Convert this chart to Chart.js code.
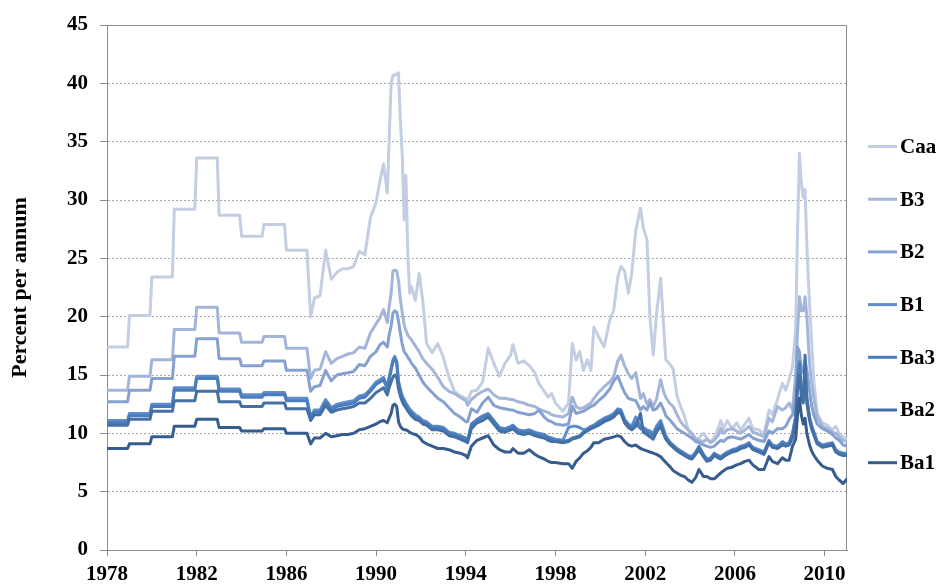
<!DOCTYPE html>
<html lang="en">
<head>
  <meta charset="UTF-8">
  <title>Bond yields by rating</title>
  <script src="https://cdn.jsdelivr.net/npm/chart.js"></script>
  <style>
    body { margin: 0; background: #ffffff; }
    #wrap { width: 940px; height: 586px; }
  </style>
</head>
<body>
  <div id="wrap"><canvas id="yieldChart" width="940" height="586"></canvas></div>

  <script>
    // Series names (legend order, top to bottom)
    var seriesNames = ['Caa', 'B3', 'B2', 'B1', 'Ba3', 'Ba2', 'Ba1'];
    var seriesColors = ['#C3CEE3', '#A3B6D9', '#86A1CF', '#5F8DCB', '#4A7DBE', '#4470A6', '#365D8E'];

    // Annual values 1978-1986 (flat within each year)
    var annualYears = [1978, 1979, 1980, 1981, 1982, 1983, 1984, 1985, 1986];
    var caaAnnual = [17.4, 20.1, 23.4, 29.2, 33.6, 28.7, 26.9, 27.9, 25.7];
    var b3Annual  = [13.7, 14.9, 16.3, 18.9, 20.8, 18.6, 17.8, 18.3, 17.3];
    var b2Annual  = [12.7, 13.7, 14.7, 16.6, 18.1, 16.4, 15.8, 16.2, 15.4];
    var b1Annual  = [11.1, 11.7, 12.5, 13.9, 14.9, 13.8, 13.3, 13.5, 13.0];
    var ba3Annual = [10.9, 11.5, 12.3, 13.7, 14.7, 13.6, 13.1, 13.3, 12.8];
    var ba2Annual = [10.7, 11.2, 11.9, 12.8, 13.6, 12.7, 12.3, 12.6, 12.1];
    var ba1Annual = [8.7, 9.1, 9.7, 10.6, 11.2, 10.5, 10.2, 10.4, 10.0];

    // Dates from 1987 on (decimal years)
    var recentDates = [
      1987.08, 1987.25, 1987.5, 1987.75, 1988.0, 1988.25, 1988.5, 1988.75, 1989.0, 1989.25,
      1989.5, 1989.75, 1990.0, 1990.17, 1990.33, 1990.5, 1990.58, 1990.67, 1990.75, 1990.83,
      1990.92, 1991.0, 1991.08, 1991.17, 1991.25, 1991.33, 1991.42, 1991.5, 1991.58, 1991.75,
      1991.92, 1992.08, 1992.25, 1992.5, 1992.75, 1993.0, 1993.25, 1993.5, 1993.75, 1994.0,
      1994.08, 1994.25, 1994.5, 1994.75, 1995.0, 1995.25, 1995.5, 1995.75, 1996.0, 1996.1,
      1996.33, 1996.58, 1996.83, 1997.08, 1997.25, 1997.5, 1997.67, 1997.83, 1998.0, 1998.33,
      1998.58, 1998.75, 1998.92, 1999.08, 1999.25, 1999.42, 1999.58, 1999.71, 1999.92, 2000.17,
      2000.42, 2000.6, 2000.78, 2000.92, 2001.08, 2001.25, 2001.4, 2001.58, 2001.79, 2001.92,
      2002.08, 2002.21, 2002.36, 2002.5, 2002.69, 2002.83, 2002.92, 2003.08, 2003.25, 2003.42,
      2003.58, 2003.75, 2003.92, 2004.08, 2004.25, 2004.4, 2004.6, 2004.75, 2004.92, 2005.08,
      2005.25, 2005.37, 2005.5, 2005.66, 2005.88, 2006.08, 2006.26, 2006.45, 2006.63, 2006.8,
      2007.07, 2007.3, 2007.52, 2007.67, 2007.9, 2008.12, 2008.27, 2008.42, 2008.57, 2008.71,
      2008.79, 2008.88, 2008.96, 2009.05, 2009.13, 2009.21, 2009.33, 2009.42, 2009.53, 2009.67,
      2009.9, 2010.12, 2010.35, 2010.5, 2010.65, 2010.83, 2011.0
    ];

    var caaRecent = [
      20.0, 21.6, 21.8, 25.7, 23.2, 23.8, 24.1, 24.1, 24.3, 25.6,
      25.3, 28.5, 29.8, 31.6, 33.1, 30.6, 35.0, 40.0, 40.7, 40.7,
      40.8, 40.9, 37.0, 33.7, 28.3, 32.1, 25.0, 22.0, 22.6, 21.4,
      23.7, 21.4, 17.7, 16.9, 17.7, 16.5, 14.8, 13.6, 13.2, 13.0,
      12.8, 13.6, 13.7, 14.4, 17.3, 16.0, 14.9, 16.0, 16.7, 17.6,
      16.0, 16.2, 15.8, 15.2, 14.3, 13.6, 13.1, 13.4, 12.6, 11.9,
      12.6, 17.7, 16.3, 17.0, 15.4, 16.3, 15.4, 19.1, 18.3, 17.4,
      19.7, 20.6, 23.4, 24.3, 23.9, 22.0, 23.7, 27.4, 29.3, 27.6,
      26.6, 20.0, 16.7, 20.1, 23.3, 19.0, 16.3, 16.0, 15.5, 13.2,
      12.3, 11.5, 10.3, 10.0, 9.5, 9.6, 10.0, 9.6, 9.2, 9.7,
      10.4, 11.1, 10.4, 11.1, 10.4, 10.9, 10.3, 10.8, 11.3, 10.4,
      10.3, 9.9, 12.0, 11.6, 12.9, 14.3, 13.7, 14.6, 15.7, 18.9,
      27.0, 34.0, 31.5, 30.2, 30.9, 26.0, 21.0, 18.0, 14.3, 11.7,
      10.9, 10.7, 10.3, 10.6, 10.0, 9.7, 9.5
    ];
    var b3Recent = [
      14.7, 15.4, 15.5, 17.0, 16.0, 16.4, 16.6, 16.8, 16.9, 17.4,
      17.3, 18.6, 19.4, 19.9, 20.6, 19.5, 20.8, 22.0, 23.9, 24.0,
      23.9, 23.1, 21.5, 20.3, 19.3, 18.8, 18.4, 18.2, 18.0, 17.5,
      17.0, 16.4, 16.0, 15.5, 14.8, 14.0, 13.6, 13.4, 13.1, 12.8,
      12.4, 12.9, 13.3, 13.6, 13.8, 13.3, 13.0, 13.0, 12.9, 12.9,
      12.7, 12.6, 12.4, 12.3, 12.1, 11.9, 11.8, 11.6, 11.5, 11.4,
      11.7, 13.1, 12.3, 12.1, 12.2, 12.4, 12.6, 13.0, 13.5, 14.0,
      14.4, 14.9, 16.2, 16.7, 15.8, 15.1, 14.7, 15.2, 13.0, 13.4,
      12.5, 12.9, 12.3, 12.9, 14.6, 13.5, 13.1, 12.6, 12.3, 11.6,
      11.0, 10.6, 10.3, 10.0, 9.5, 9.4, 9.3, 9.5, 9.2, 9.4,
      9.8, 10.4, 10.0, 10.3, 10.4, 10.2, 10.0, 10.3, 10.6, 10.1,
      9.9, 9.7, 11.3, 11.0, 12.3, 12.0, 12.2, 12.6, 12.0, 15.0,
      18.5, 21.7, 20.5, 20.5, 21.7, 20.0, 16.0, 14.3, 12.9, 11.4,
      10.6, 10.4, 10.1, 10.0, 9.7, 9.4, 9.3
    ];
    var b2Recent = [
      13.6, 14.0, 14.1, 15.4, 14.5, 15.0, 15.1, 15.2, 15.3, 15.9,
      15.8, 16.6, 17.0, 17.6, 17.8, 17.4, 18.4, 19.2, 20.3, 20.5,
      20.4, 19.6, 18.6, 17.6, 17.0, 16.8, 16.5, 16.3, 16.0, 15.6,
      15.0, 14.4, 14.0, 13.5, 13.0, 12.7, 12.2, 11.7, 11.4, 11.0,
      11.0, 12.1, 11.8, 12.6, 13.1, 12.4, 12.2, 12.1, 12.0, 12.0,
      11.8, 11.7, 11.6, 11.7, 12.0, 11.4, 11.1, 11.0, 10.8, 10.7,
      10.8, 12.3, 11.7, 11.8, 11.9, 12.1, 12.3, 12.4, 12.8, 13.2,
      13.8, 14.5, 14.9, 14.2, 13.5, 13.0, 12.9, 12.8, 12.0, 12.3,
      12.0, 12.6, 12.0, 12.1, 12.6, 12.0, 11.5, 11.2, 10.8, 10.4,
      10.2, 10.0, 9.8, 9.6, 9.3, 9.2, 9.0, 8.9, 8.8, 8.9,
      9.2, 9.4, 9.3, 9.6, 9.7, 9.6, 9.5, 9.7, 9.9, 9.6,
      9.4, 9.3, 10.2, 10.0, 10.4, 10.4, 10.6, 11.2, 11.6, 13.0,
      17.4, 17.0, 15.6, 15.2, 16.3, 15.4, 13.6, 12.4, 11.5, 10.8,
      10.4, 10.2, 9.9, 9.6, 9.4, 9.0, 8.9
    ];
    var b1Recent = [
      11.4, 12.0, 12.0, 12.9, 12.2, 12.5, 12.6, 12.7, 12.8, 13.2,
      13.3, 13.8, 14.4, 14.6, 14.8, 14.0, 14.8, 15.6, 16.3, 16.6,
      16.2, 14.5, 13.8, 13.2, 12.9, 12.6, 12.3, 12.1, 11.9, 11.6,
      11.4, 11.1, 11.0, 10.6, 10.6, 10.5, 10.1, 10.0, 9.8, 9.6,
      9.4, 10.8, 11.2, 11.5, 11.7, 11.1, 10.5, 10.4, 10.6, 10.7,
      10.3, 10.2, 10.3, 10.1, 10.0, 9.9, 9.7, 9.6, 9.5, 9.4,
      10.5, 10.6, 10.6, 10.5, 10.3, 10.4, 10.6, 10.7, 11.0, 11.3,
      11.5, 11.7, 12.1, 12.0, 11.2, 10.8, 10.6, 11.4, 10.6, 10.5,
      10.3, 10.2, 10.0, 10.6, 11.1, 10.3, 9.8, 9.3, 9.0, 8.7,
      8.5, 8.3, 8.1, 8.0, 8.4, 8.9, 8.2, 7.8, 7.9, 8.3,
      8.1, 8.0, 8.2, 8.4, 8.6, 8.7, 8.9, 9.0, 9.2, 8.8,
      8.6, 8.4, 9.4, 9.0, 8.9, 9.3, 9.1, 9.2, 10.0, 11.5,
      14.5, 16.2, 14.0, 13.0, 14.6, 13.0, 11.4, 10.7, 10.1, 9.3,
      9.0, 9.1, 9.2, 8.6, 8.4, 8.3, 8.3
    ];
    var ba3Recent = [
      11.3, 11.8, 11.8, 12.7, 12.0, 12.3, 12.4, 12.5, 12.6, 13.0,
      13.1, 13.6, 14.2, 14.4, 14.6, 13.8, 14.6, 15.4, 16.1, 16.4,
      16.0, 14.3, 13.6, 13.0, 12.7, 12.4, 12.1, 11.9, 11.7, 11.4,
      11.3, 11.0, 10.9, 10.5, 10.5, 10.4, 10.0, 9.9, 9.7, 9.5,
      9.3, 10.7, 11.1, 11.4, 11.6, 11.0, 10.4, 10.3, 10.5, 10.6,
      10.2, 10.1, 10.2, 10.0, 9.9, 9.8, 9.6, 9.5, 9.4, 9.3,
      9.4, 9.6, 9.7, 9.8, 10.1, 10.3, 10.5, 10.6, 10.9, 11.2,
      11.4, 11.6, 12.0, 11.9, 11.1, 10.7, 10.5, 10.9, 10.4, 10.3,
      10.1, 10.0, 9.8, 10.4, 10.9, 10.1, 9.6, 9.2, 8.9, 8.6,
      8.4, 8.2, 8.0, 7.9, 8.3, 8.8, 8.1, 7.7, 7.8, 8.2,
      8.0, 7.9, 8.1, 8.3, 8.5, 8.6, 8.8, 8.9, 9.1, 8.7,
      8.5, 8.3, 9.3, 8.9, 8.8, 9.2, 9.0, 9.1, 9.9, 11.3,
      14.3, 16.0, 13.8, 12.9, 14.6, 12.9, 11.3, 10.6, 10.0, 9.2,
      8.9, 9.0, 9.1, 8.5, 8.3, 8.2, 8.2
    ];
    var ba2Recent = [
      11.1, 11.6, 11.6, 12.4, 11.8, 12.0, 12.1, 12.2, 12.3, 12.6,
      12.6, 13.0, 13.5, 13.7, 13.9, 13.3, 13.9, 14.4, 14.8, 15.0,
      14.8, 13.8, 13.2, 12.7, 12.4, 12.2, 11.9, 11.7, 11.5, 11.2,
      11.1, 10.8, 10.7, 10.3, 10.3, 10.2, 9.8, 9.7, 9.5, 9.3,
      9.2, 10.4, 10.9, 11.1, 11.4, 10.8, 10.2, 10.1, 10.3, 10.4,
      10.0, 9.9, 10.0, 9.8, 9.7, 9.6, 9.4, 9.3, 9.3, 9.2,
      9.3, 9.5, 9.6, 9.7, 10.0, 10.2, 10.4, 10.5, 10.7, 11.0,
      11.2, 11.4, 11.8, 11.7, 10.9, 10.5, 10.3, 10.6, 11.7, 10.1,
      9.9, 9.7, 9.5, 10.1, 10.6, 9.9, 9.5, 9.1, 8.8, 8.5,
      8.3, 8.1, 7.9, 7.8, 8.2, 8.6, 8.0, 7.6, 7.7, 8.1,
      7.9, 7.8, 8.0, 8.2, 8.4, 8.5, 8.7, 8.8, 9.0, 8.6,
      8.4, 8.2, 9.2, 8.8, 8.7, 9.0, 8.9, 9.0, 9.6, 11.0,
      13.8, 15.0, 13.2, 12.6, 16.7, 12.6, 11.1, 10.4, 9.8, 9.1,
      8.8, 8.9, 9.0, 8.4, 8.2, 8.1, 8.1
    ];
    var ba1Recent = [
      9.1, 9.6, 9.6, 10.0, 9.7, 9.8, 9.9, 9.9, 10.0, 10.3,
      10.4, 10.6, 10.8, 11.0, 11.1, 10.9, 11.3, 11.7, 12.4, 12.5,
      12.3, 11.0, 10.6, 10.4, 10.3, 10.3, 10.2, 10.1, 10.0, 9.9,
      9.7, 9.3, 9.1, 8.9, 8.7, 8.7, 8.6, 8.4, 8.3, 8.1,
      7.9, 8.9, 9.4, 9.6, 9.8, 9.0, 8.6, 8.4, 8.4, 8.7,
      8.3, 8.3, 8.6, 8.2, 8.0, 7.8, 7.6, 7.5, 7.5, 7.4,
      7.4, 7.0, 7.6, 7.9, 8.3, 8.5, 8.8, 9.2, 9.2, 9.5,
      9.6, 9.7, 9.8, 9.7, 9.3, 9.0, 8.9, 9.0, 8.7, 8.6,
      8.5, 8.4, 8.3, 8.2, 8.0, 7.7, 7.5, 7.2, 6.8, 6.6,
      6.4, 6.3, 6.0, 5.8, 6.2, 6.9, 6.3, 6.3, 6.1, 6.1,
      6.4, 6.6, 6.8, 7.0, 7.1, 7.3, 7.4, 7.6, 7.7, 7.3,
      6.9, 6.9, 8.0, 7.6, 7.4, 7.9, 7.7, 7.7, 8.9, 9.5,
      11.5, 13.0, 11.6, 10.8, 11.3, 10.0, 9.0, 8.5, 8.1, 7.7,
      7.2, 7.0, 6.9, 6.3, 6.0, 5.7, 6.1
    ];

    // Axis ticks
    var yearTicks = [1978, 1982, 1986, 1990, 1994, 1998, 2002, 2006, 2010];

    var annualSets = [caaAnnual, b3Annual, b2Annual, b1Annual, ba3Annual, ba2Annual, ba1Annual];
    var recentSets = [caaRecent, b3Recent, b2Recent, b1Recent, ba3Recent, ba2Recent, ba1Recent];

    // each annual value holds from January to December, then the later points
    function buildPoints(annual, recent) {
      var pts = [];
      annualYears.forEach(function (yr, i) {
        pts.push({ x: yr, y: annual[i] });
        pts.push({ x: yr + 11 / 12, y: annual[i] });
      });
      recentDates.forEach(function (d, i) {
        pts.push({ x: d, y: recent[i] });
      });
      return pts;
    }

    var serif = "'Liberation Serif', 'Times New Roman', serif";
    var axisGray = '#8c8c8c';

    var datasets = seriesNames.map(function (name, i) {
      return {
        label: name,
        data: buildPoints(annualSets[i], recentSets[i]),
        borderColor: seriesColors[i],
        backgroundColor: seriesColors[i],
        borderWidth: 3,
        pointRadius: 0,
        tension: 0,
        borderJoinStyle: 'round',
        borderCapStyle: 'round',
        order: seriesNames.length - i   // Caa drawn first, Ba1 on top
      };
    });

    // plot area frame + right-hand legend
    var frameAndLegend = {
      id: 'frameAndLegend',
      beforeDatasetsDraw: function (chart) {
        var a = chart.chartArea, c = chart.ctx;
        c.save();
        c.strokeStyle = axisGray;
        c.lineWidth = 1;
        c.strokeRect(a.left + 0.5, a.top + 0.5, a.right - a.left - 1, a.bottom - a.top);
        c.restore();
      },
      afterDraw: function (chart) {
        var c = chart.ctx;
        c.save();
        c.font = 'bold 21px ' + serif;
        c.textBaseline = 'middle';
        c.textAlign = 'left';
        seriesNames.forEach(function (name, i) {
          var y = 146.5 + i * 52.7;
          c.strokeStyle = seriesColors[i];
          c.lineWidth = 3;
          c.beginPath();
          c.moveTo(868, y);
          c.lineTo(897, y);
          c.stroke();
          c.fillStyle = '#000';
          c.fillText(name, 900, y + 1);
        });
        c.restore();
      }
    };

    var ctx = document.getElementById('yieldChart').getContext('2d');
    var yieldChart = new Chart(ctx, {
      type: 'line',
      data: { datasets: datasets },
      plugins: [frameAndLegend],
      options: {
        responsive: false,
        animation: false,
        devicePixelRatio: 1,
        layout: { padding: { top: 25, right: 93, left: 0, bottom: 0 } },
        plugins: {
          legend: { display: false },
          tooltip: { enabled: false }
        },
        scales: {
          x: {
            type: 'linear',
            min: 1978,
            max: 2011,
            afterBuildTicks: function (scale) {
              scale.ticks = yearTicks.map(function (v) { return { value: v }; });
            },
            afterFit: function (scale) { scale.height = 36; },
            ticks: {
              autoSkip: false,
              maxRotation: 0,
              padding: 6,
              color: '#000',
              font: { family: serif, size: 21, weight: 'bold' },
              callback: function (v) { return String(v); }
            },
            grid: {
              drawOnChartArea: false,
              drawTicks: true,
              tickLength: 6,
              tickColor: axisGray
            },
            border: { color: axisGray, width: 1 }
          },
          y: {
            min: 0,
            max: 45,
            afterFit: function (scale) { scale.width = 107; },
            ticks: {
              stepSize: 5,
              padding: 12,
              color: '#000',
              font: { family: serif, size: 21, weight: 'bold' }
            },
            grid: {
              color: '#a6a6a6',
              lineWidth: 1,
              tickLength: 7,
              tickColor: axisGray
            },
            border: { color: axisGray, width: 1, dash: [2, 2] },
            title: {
              display: true,
              text: 'Percent per annum',
              color: '#000',
              padding: { top: 7, bottom: 0 },
              font: { family: serif, size: 22, weight: 'bold' }
            }
          }
        }
      }
    });
  </script>
</body>
</html>
